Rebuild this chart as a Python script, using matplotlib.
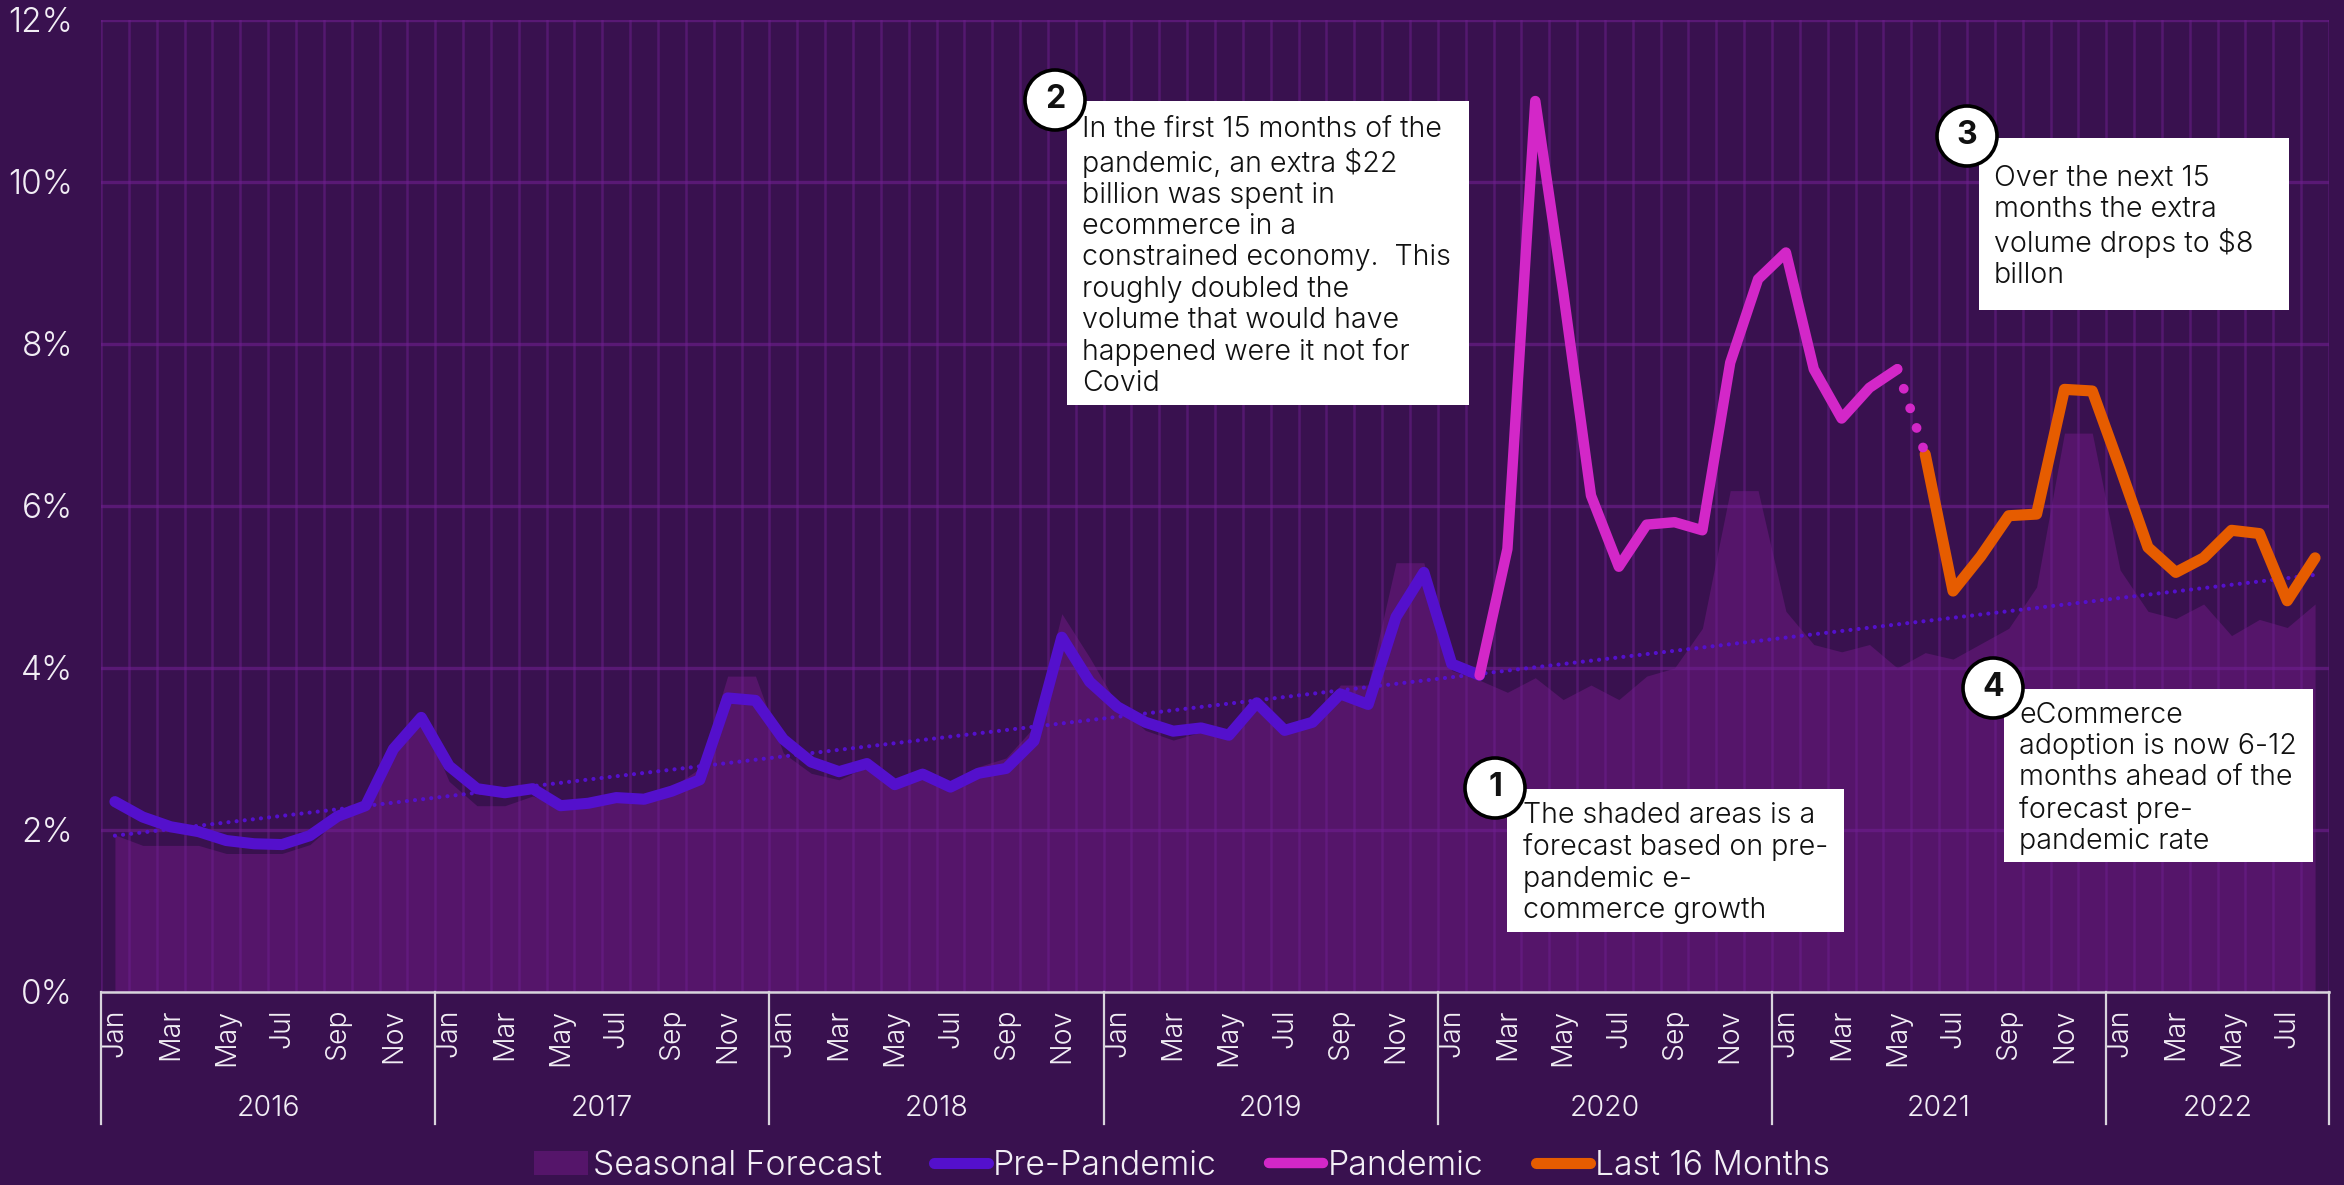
import numpy as np
import matplotlib
matplotlib.use("Agg")
import matplotlib.pyplot as plt
from matplotlib.patches import Rectangle, Ellipse

plt.rcParams['font.family'] = ['Inter', 'DejaVu Sans']
plt.rcParams['font.weight'] = 300

# data, % per month, Jan 2016 = index 0
years = ["2016", "2017", "2018", "2019", "2020", "2021", "2022"]
month_names = ["Jan", "Mar", "May", "Jul", "Sep", "Nov"]

forecast = [1.94, 1.81, 1.81, 1.81, 1.71, 1.71, 1.71, 1.82, 2.12, 2.30, 3.00, 3.40,
            2.60, 2.30, 2.30, 2.42, 2.30, 2.33, 2.40, 2.40, 2.53, 2.76, 3.90, 3.90,
            2.95, 2.70, 2.62, 2.78, 2.53, 2.65, 2.49, 2.78, 2.89, 3.27, 4.67, 4.13,
            3.54, 3.23, 3.11, 3.21, 3.14, 3.58, 3.21, 3.31, 3.79, 3.79, 5.30, 5.30,
            3.97, 3.85, 3.70, 3.88, 3.61, 3.79, 3.61, 3.90, 4.00, 4.49, 6.19, 6.19,
            4.70, 4.29, 4.20, 4.29, 4.00, 4.19, 4.11, 4.30, 4.49, 5.00, 6.90, 6.90,
            5.21, 4.70, 4.61, 4.79, 4.40, 4.60, 4.50, 4.79]

pre_pandemic = [2.35, 2.16, 2.04, 1.98, 1.87, 1.83, 1.82, 1.93, 2.17, 2.30, 3.00, 3.39,
                2.79, 2.51, 2.46, 2.51, 2.30, 2.33, 2.40, 2.38, 2.48, 2.62, 3.63, 3.60,
                3.12, 2.84, 2.72, 2.82, 2.56, 2.69, 2.53, 2.70, 2.76, 3.10, 4.38, 3.83,
                3.52, 3.33, 3.22, 3.26, 3.17, 3.57, 3.23, 3.33, 3.68, 3.55, 4.63, 5.18,
                4.05, 3.91]

pandemic = [3.91, 5.47, 11.0, 8.65, 6.13, 5.25, 5.77, 5.80, 5.70, 7.77, 8.80, 9.13,
            7.69, 7.08, 7.46, 7.69]

last_16 = [6.64, 4.95, 5.38, 5.88, 5.90, 7.44, 7.42, 6.47, 5.49, 5.18, 5.36, 5.70,
           5.66, 4.83, 5.36]

trend_x = [0, 79]
trend_y = [1.93, 5.15]

BG = '#39114f'
FILL = '#55156a'
GRID = '#6f1f90'
PRE = '#5410cc'
PAN = '#d327c8'
ORANGE = '#e65c00'
LIGHT = '#f2eef5'
W, H = 2344, 1185

fig = plt.figure(figsize=(W / 100, H / 100), dpi=100, facecolor=BG)
ax = fig.add_axes([101 / W, 1 - 992 / H, (2329 - 101) / W, (992 - 20) / H], facecolor=BG)

n = len(forecast)
idx = np.arange(n)
ax.fill_between(idx, forecast, 0, color=FILL, lw=0, zorder=1, label="Seasonal Forecast")
ax.plot(trend_x, trend_y, color=PRE, lw=3, ls=(0, (0.01, 1.95)), dash_capstyle='round', zorder=3)

ax.plot(idx[:len(pre_pandemic)], pre_pandemic, color=PRE, lw=8, solid_joinstyle='round',
        solid_capstyle='round', zorder=4, label="Pre-Pandemic")
pan_x = idx[len(pre_pandemic) - 1:len(pre_pandemic) - 1 + len(pandemic)]
ax.plot(pan_x, pandemic, color=PAN, lw=7.5, solid_joinstyle='round',
        solid_capstyle='round', zorder=5, label="Pandemic")
last_x = idx[-len(last_16):]
ax.plot(last_x, last_16, color=ORANGE, lw=8, solid_joinstyle='round',
        solid_capstyle='round', zorder=5, label="Last 16 Months")
# gap between the two is a dotted pandemic segment
ax.plot([pan_x[-1], last_x[0]], [pandemic[-1], last_16[0]], color=PAN, lw=7,
        ls=(0, (0.01, 2.11)), dash_capstyle='round', zorder=6)

ax.set_xlim(-0.5, n - 0.5)
ax.set_ylim(0, 12)
ax.set_yticks(np.arange(0, 13, 2))
ax.set_yticklabels([f"{v}%" for v in range(0, 13, 2)])
ax.set_xticks(np.arange(n + 1) - 0.5, minor=True)
ax.set_xticks(idx[::2])
ax.set_xticklabels([month_names[(i // 2) % 6] for i in idx[::2]], rotation=90, va='top', ha='center')
ax.tick_params(axis='y', length=0, pad=20, labelsize=24, labelcolor=LIGHT)
ax.tick_params(axis='x', which='major', length=0, pad=12, labelsize=20.5, labelcolor=LIGHT)
ax.tick_params(axis='x', which='minor', length=0)
ax.grid(True, axis='y', which='major', color=GRID, lw=2.4, alpha=0.6)
ax.grid(True, axis='x', which='minor', color=GRID, lw=1.8, alpha=0.5)
ax.grid(False, axis='x', which='major')
ax.set_axisbelow(False)
for name in ['left', 'right', 'top']:
    ax.spines[name].set_visible(False)
ax.spines['bottom'].set_color('#d8d4dc')
ax.spines['bottom'].set_linewidth(1.8)
ax.spines['bottom'].set_zorder(6)

# year level of the axis
xtr = ax.get_xaxis_transform()
for i, year in enumerate(years):
    ax.text(i * 12 - 0.5 + min(12, n - i * 12) / 2, -0.1195, year, transform=xtr, ha='center', va='center',
            fontsize=20.5, color=LIGHT)
for b in list(range(0, n, 12)) + [n]:
    ax.plot([b - 0.5, b - 0.5], [0, -0.136], transform=xtr, clip_on=False, color='#d8d4dc', lw=1.6, zorder=6)

fig.legend(loc='center', bbox_to_anchor=(1182 / W, 1 - 1166 / H), ncol=4, frameon=False, fontsize=24.3,
           labelcolor=LIGHT, handlelength=1.6, handletextpad=0.14, columnspacing=1.55, handleheight=0.7)


def box(x0, y0, x1, y1, lines, num, cx, cy, tx, ty):
    # pixel positions, y counted from the top
    fig.add_artist(Rectangle((x0 / W, 1 - y1 / H), (x1 - x0) / W, (y1 - y0) / H, transform=fig.transFigure,
                             facecolor='white', edgecolor='none', zorder=7))
    fig.text(tx / W, 1 - ty / H, lines, ha='left', va='top', fontsize=20.6, color='#111111',
             linespacing=1.2, zorder=8)
    fig.add_artist(Ellipse((cx / W, 1 - cy / H), 60 / W, 60 / H, transform=fig.transFigure,
                           facecolor='white', edgecolor='black', lw=2.6, zorder=9))
    fig.text(cx / W, 1 - cy / H, num, ha='center', va='center', fontsize=23, fontweight='bold',
             color='#111111', zorder=10)


box(1507, 789, 1844, 932,
    "The shaded areas is a\nforecast based on pre-\npandemic e-\ncommerce growth",
    "1", 1495, 788, 1523, 802)
box(1067, 101, 1469, 405,
    "In the first 15 months of the\npandemic, an extra $22\nbillion was spent in\necommerce in a\n"
    "constrained economy.  This\nroughly doubled the\nvolume that would have\nhappened were it not for\nCovid",
    "2", 1055, 100, 1082, 116)
box(1979, 138, 2289, 310,
    "Over the next 15\nmonths the extra\nvolume drops to $8\nbillon",
    "3", 1967, 136, 1994, 165)
box(2004, 689, 2313, 862,
    "eCommerce\nadoption is now 6-12\nmonths ahead of the\nforecast pre-\npandemic rate",
    "4", 1993, 688, 2019, 702)

fig.savefig("out.png", dpi=100, facecolor=BG)
